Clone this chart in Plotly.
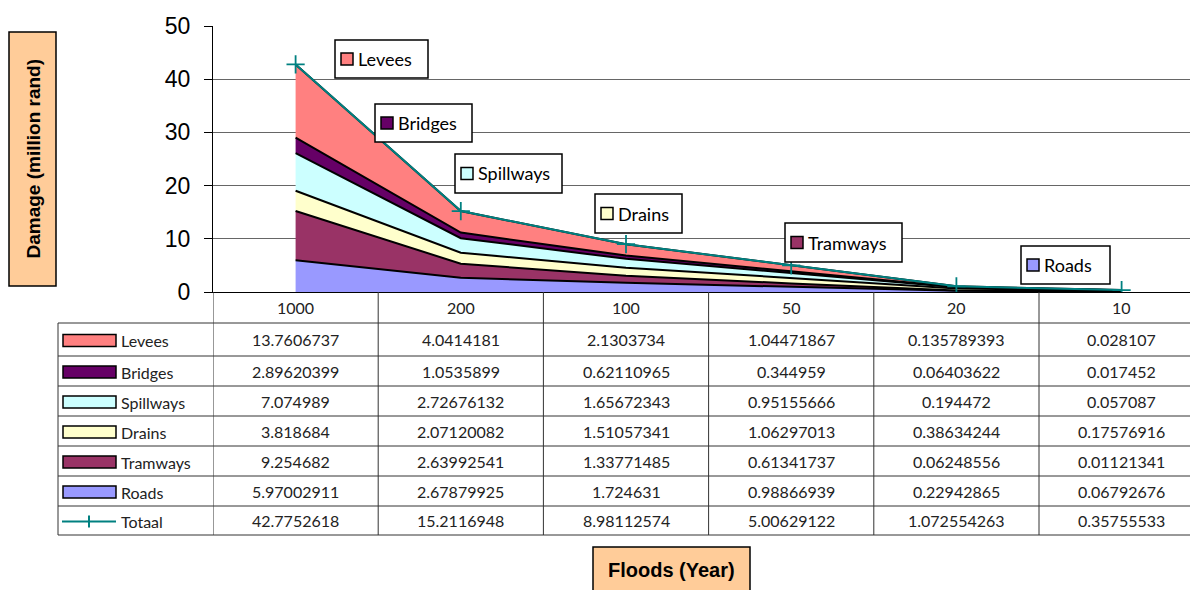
import plotly.graph_objects as go

# Flood return periods (years) and damage per component (million rand)
years = ["1000", "200", "100", "50", "20", "10"]
levees = [13.7606737, 4.0414181, 2.1303734, 1.04471867, 0.135789393, 0.028107]
bridges = [2.89620399, 1.0535899, 0.62110965, 0.344959, 0.06403622, 0.017452]
spillways = [7.074989, 2.72676132, 1.65672343, 0.95155666, 0.194472, 0.057087]
drains = [3.818684, 2.07120082, 1.51057341, 1.06297013, 0.38634244, 0.17576916]
tramways = [9.254682, 2.63992541, 1.33771485, 0.61341737, 0.06248556, 0.01121341]
roads = [5.97002911, 2.67879925, 1.724631, 0.98866939, 0.22942865, 0.06792676]
totaal = [42.7752618, 15.2116948, 8.98112574, 5.00629122, 1.072554263, 0.35755533]

# text shown in the data table (as printed)
levees_txt = ["13.7606737", "4.0414181", "2.1303734", "1.04471867", "0.135789393", "0.028107"]
bridges_txt = ["2.89620399", "1.0535899", "0.62110965", "0.344959", "0.06403622", "0.017452"]
spillways_txt = ["7.074989", "2.72676132", "1.65672343", "0.95155666", "0.194472", "0.057087"]
drains_txt = ["3.818684", "2.07120082", "1.51057341", "1.06297013", "0.38634244", "0.17576916"]
tramways_txt = ["9.254682", "2.63992541", "1.33771485", "0.61341737", "0.06248556", "0.01121341"]
roads_txt = ["5.97002911", "2.67879925", "1.724631", "0.98866939", "0.22942865", "0.06792676"]
totaal_txt = ["42.7752618", "15.2116948", "8.98112574", "5.00629122", "1.072554263", "0.35755533"]

W, H = 1190, 590
def px(x):
    return x / W
def py(y):
    return 1 - y / H

TEAL = "#008080"
colors = {
    "Levees": "#FF8080", "Bridges": "#660066", "Spillways": "#CCFFFF",
    "Drains": "#FFFFCC", "Tramways": "#993366", "Roads": "#9999FF",
}
# stacking order: bottom to top
stack = [("Roads", roads), ("Tramways", tramways), ("Drains", drains),
         ("Spillways", spillways), ("Bridges", bridges), ("Levees", levees)]

fig = go.Figure()
for name, vals in stack:
    fig.add_trace(go.Scatter(
        x=years, y=vals, name=name, stackgroup="dmg", mode="lines",
        line=dict(color="black", width=2), fillcolor=colors[name],
        hoverinfo="x+y+name"))
fig.add_trace(go.Scatter(
    x=years, y=totaal, name="Totaal", mode="lines+markers",
    line=dict(color=TEAL, width=2),
    marker=dict(symbol="cross-thin", size=13, line=dict(color=TEAL, width=1.8))))

PLOT_L, PLOT_T, PLOT_B = 213, 26, 292
ncat = len(years)
col_w = 165.2
x_right = -0.5 + (W - PLOT_L) / col_w

fig.update_layout(
    width=W, height=H, margin=dict(l=0, r=0, t=0, b=0, autoexpand=False),
    paper_bgcolor="white", plot_bgcolor="white", showlegend=False,
    xaxis=dict(domain=[px(PLOT_L), 1], type="category", range=[-0.5, x_right],
               showticklabels=False, ticks="", showgrid=False, zeroline=False,
               showline=True, linecolor="black", linewidth=1, automargin=False),
    yaxis=dict(domain=[py(PLOT_B), py(PLOT_T)], range=[0, 50], dtick=10,
               showgrid=True, gridcolor="#666666", gridwidth=1,
               zeroline=False, showline=True, linecolor="black", linewidth=1,
               ticks="outside", ticklen=8, tickcolor="black", automargin=False,
               ticklabelstandoff=9,
               tickfont=dict(family="Liberation Sans, Arial", size=23, color="black")),
)

shapes = []
ann = []
LINE = dict(color="#333333", width=1)
table_font = dict(family="Lato, Open Sans, sans-serif", size=16, color="#222222")

# ---- data table under the plot ----
TBL_L = 58
row_edges = [323, 356, 386, 416, 446, 476, 506, 535]
# horizontal rules
for y in row_edges:
    shapes.append(dict(type="line", xref="paper", yref="paper",
                       x0=px(TBL_L), x1=1, y0=py(y), y1=py(y), line=LINE))
# left border of legend column
shapes.append(dict(type="line", xref="paper", yref="paper",
                   x0=px(TBL_L), x1=px(TBL_L), y0=py(row_edges[0]), y1=py(row_edges[-1]), line=LINE))
# column dividers (category boundaries)
for i in range(ncat):
    shapes.append(dict(type="line", xref="x", yref="paper",
                       x0=i - 0.5, x1=i - 0.5, y0=py(PLOT_B), y1=py(row_edges[-1]), line=LINE))

# header: flood return periods
for i, yr in enumerate(years):
    ann.append(dict(x=i, y=py((PLOT_B + row_edges[0]) / 2), xref="x", yref="paper",
                    text=yr, showarrow=False, font=table_font, xanchor="center", yanchor="middle"))

rows = [("Levees", levees_txt), ("Bridges", bridges_txt), ("Spillways", spillways_txt),
        ("Drains", drains_txt), ("Tramways", tramways_txt), ("Roads", roads_txt),
        ("Totaal", totaal_txt)]
for r, (name, txts) in enumerate(rows):
    yc = (row_edges[r] + row_edges[r + 1]) / 2
    for i, t in enumerate(txts):
        ann.append(dict(x=i, y=py(yc), xref="x", yref="paper", text=t, showarrow=False,
                        font=table_font, xanchor="center", yanchor="middle"))
    ann.append(dict(x=px(119), y=py(yc + 1), xref="paper", yref="paper", text=name,
                    showarrow=False, font=table_font, xanchor="left", yanchor="middle"))
    if name == "Totaal":
        shapes.append(dict(type="line", xref="paper", yref="paper",
                           x0=px(62), x1=px(116), y0=py(yc + 1), y1=py(yc + 1),
                           line=dict(color=TEAL, width=2)))
        shapes.append(dict(type="line", xref="paper", yref="paper",
                           x0=px(89), x1=px(89), y0=py(yc - 5), y1=py(yc + 7),
                           line=dict(color=TEAL, width=2)))
    else:
        shapes.append(dict(type="rect", xref="paper", yref="paper",
                           x0=px(63), x1=px(116), y0=py(yc - 5), y1=py(yc + 7),
                           fillcolor=colors[name], line=dict(color="black", width=1.5)))

# ---- series-name callouts on the areas ----
callouts = [("Levees", 335, 40, 428, 78), ("Bridges", 375, 104, 472, 142),
            ("Spillways", 455, 154, 562, 193), ("Drains", 595, 194, 682, 233),
            ("Tramways", 785, 223, 902, 262), ("Roads", 1021, 246, 1110, 284)]
box_font = dict(family="Lato, Open Sans, sans-serif", size=18, color="black")
for name, x0, y0, x1, y1 in callouts:
    shapes.append(dict(type="rect", xref="paper", yref="paper", layer="above",
                       x0=px(x0), x1=px(x1), y0=py(y0), y1=py(y1),
                       fillcolor="white", line=dict(color="black", width=1.5)))
    ym = (y0 + y1) / 2
    shapes.append(dict(type="rect", xref="paper", yref="paper", layer="above",
                       x0=px(x0 + 6), x1=px(x0 + 18), y0=py(ym - 6), y1=py(ym + 6),
                       fillcolor=colors[name], line=dict(color="black", width=1.5)))
    ann.append(dict(x=px(x0 + 21), y=py(ym), xref="paper", yref="paper", text=name,
                    showarrow=False, font=box_font, xanchor="left", yanchor="middle"))

# ---- axis titles in orange boxes ----
ORANGE = "#FFCC99"
shapes.append(dict(type="rect", xref="paper", yref="paper", x0=px(9), x1=px(56),
                   y0=py(32), y1=py(286), fillcolor=ORANGE, line=dict(color="black", width=1.5)))
ann.append(dict(x=px(32.5), y=py(159), xref="paper", yref="paper",
                text="<b>Damage (million rand)</b>", textangle=-90, showarrow=False,
                font=dict(family="Liberation Sans, Arial", size=19, color="black"),
                xanchor="center", yanchor="middle"))
shapes.append(dict(type="rect", xref="paper", yref="paper", x0=px(593), x1=px(750),
                   y0=py(547), y1=py(592), fillcolor=ORANGE, line=dict(color="black", width=1.5)))
ann.append(dict(x=px(671), y=py(570), xref="paper", yref="paper",
                text="<b>Floods (Year)</b>", showarrow=False,
                font=dict(family="Liberation Sans, Arial", size=20, color="black"),
                xanchor="center", yanchor="middle"))

fig.update_layout(shapes=shapes, annotations=ann)
fig.write_html("out.html")
